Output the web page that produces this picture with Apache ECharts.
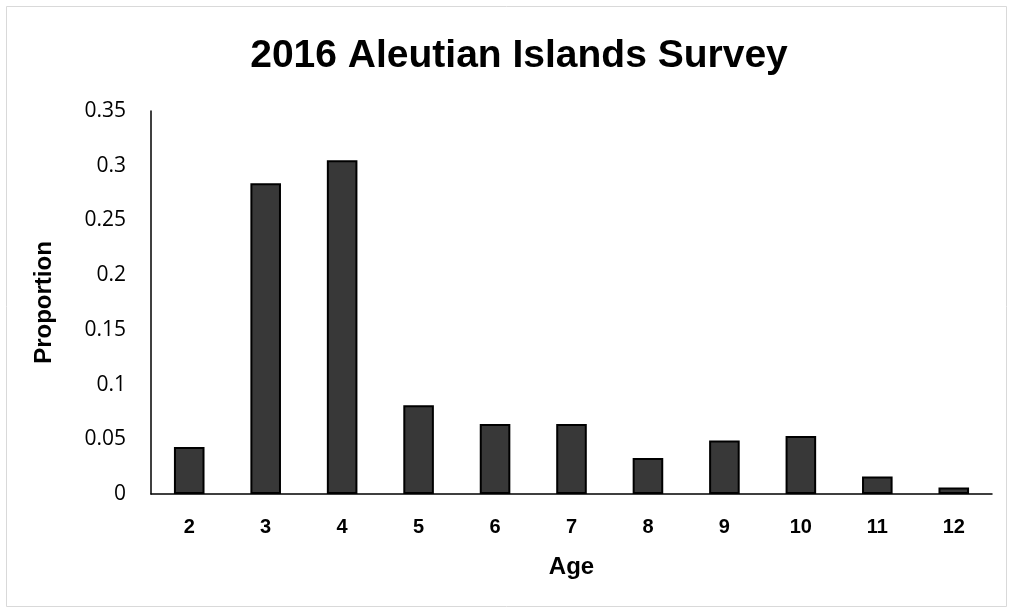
<!DOCTYPE html>
<html>
<head>
<meta charset="utf-8">
<script src="https://cdn.jsdelivr.net/npm/echarts@6/dist/echarts.min.js"></script>
<style>
  html, body { margin: 0; padding: 0; background: #fff; }
  #chart { width: 1013px; height: 614px; }
</style>
</head>
<body>
<div id="chart"></div>
<script>
// Age composition proportions by age class
const ages = ['2', '3', '4', '5', '6', '7', '8', '9', '10', '11', '12'];
const proportions = [0.043, 0.284, 0.305, 0.081, 0.064, 0.064, 0.033, 0.049, 0.053, 0.016, 0.006];
const yTicks = { min: 0, max: 0.35, interval: 0.05 };

const chart = echarts.init(document.getElementById('chart'));
chart.setOption({
  animation: false,
  backgroundColor: '#ffffff',
  title: {
    text: '2016 Aleutian Islands Survey',
    left: 514,
    textAlign: 'center',
    top: 32,
    textStyle: { fontFamily: 'Liberation Sans', fontWeight: 'bold', fontSize: 39, color: '#000' }
  },
  graphic: [{
    type: 'rect',
    shape: { x: 6.5, y: 6.5, width: 1000, height: 600 },
    style: { fill: 'none', stroke: '#d9d9d9', lineWidth: 1 }
  }],
  grid: { left: 151, right: 21, top: 111, bottom: 120 },
  xAxis: {
    type: 'category',
    data: ages,
    name: 'Age',
    nameLocation: 'middle',
    nameGap: 61,
    nameTextStyle: { fontFamily: 'Liberation Sans', fontWeight: 'bold', fontSize: 24, color: '#000' },
    axisLine: { lineStyle: { color: '#000', width: 1.5 } },
    axisTick: { show: false },
    axisLabel: { fontFamily: 'Liberation Sans', fontWeight: 'bold', fontSize: 20, color: '#000', margin: 23 }
  },
  yAxis: {
    type: 'value',
    min: yTicks.min,
    max: yTicks.max,
    interval: yTicks.interval,
    name: 'Proportion',
    nameLocation: 'middle',
    nameGap: 95,
    nameRotate: 90,
    nameTextStyle: { fontFamily: 'Liberation Sans', fontWeight: 'bold', fontSize: 24, color: '#000' },
    axisLine: { show: true, lineStyle: { color: '#000', width: 1.5 } },
    axisTick: { show: false },
    splitLine: { show: false },
    axisLabel: {
      fontFamily: 'Open Sans', fontSize: 21, color: '#000', margin: 25,
      formatter: v => String(Math.round(v * 100) / 100)
    }
  },
  series: [{
    type: 'bar',
    data: proportions,
    barWidth: '40%',
    itemStyle: { color: '#383838', borderColor: '#000', borderWidth: 2 }
  }]
});
</script>
</body>
</html>
